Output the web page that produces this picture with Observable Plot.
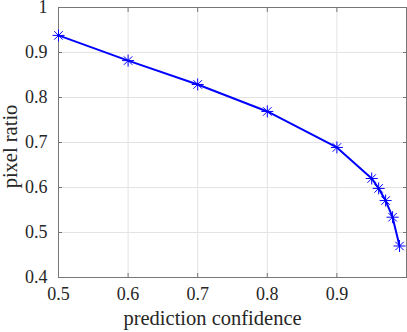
<!DOCTYPE html>
<html><head>
<meta charset="utf-8">
<script src="https://cdn.jsdelivr.net/npm/d3@7"></script>
<script src="https://cdn.jsdelivr.net/npm/@observablehq/plot@0.6"></script>
<style>body{margin:0;background:#fff} svg{display:block} svg text{font-family:"Liberation Serif",serif}</style>
</head><body><div id="chart"></div>
<script>
const confidence = [0.5, 0.6, 0.7, 0.8, 0.9, 0.95, 0.96, 0.97, 0.98, 0.99];
const pixelRatio = [0.938, 0.882, 0.829, 0.769, 0.689, 0.620, 0.598, 0.571, 0.534, 0.470];
const xTicks = [0.5, 0.6, 0.7, 0.8, 0.9];
const yTicks = [0.4, 0.5, 0.6, 0.7, 0.8, 0.9, 1];
const xLabel = "prediction confidence";
const yLabel = "pixel ratio";

const data = confidence.map((c, i) => ({c, p: pixelRatio[i]}));
const fmt = d => String(d);
const serif = "Liberation Serif, serif";

// MATLAB-style 8-armed asterisk
const star8 = {
  draw(ctx, size) {
    const r = Math.sqrt(size / Math.PI);
    const d = r * Math.SQRT1_2;
    ctx.moveTo(-r, 0); ctx.lineTo(r, 0);
    ctx.moveTo(0, -r); ctx.lineTo(0, r);
    ctx.moveTo(-d, -d); ctx.lineTo(d, d);
    ctx.moveTo(-d, d); ctx.lineTo(d, -d);
  }
};

const plot = Plot.plot({
  width: 407, height: 332,
  marginLeft: 58, marginRight: 1, marginTop: 7, marginBottom: 55,
  style: {fontFamily: serif, fontSize: "18px", color: "#262626", background: "#fff"},
  x: {domain: [0.5, 1]},
  y: {domain: [0.4, 1]},
  marks: [
    Plot.gridX(xTicks, {stroke: "#e3e3e3", strokeOpacity: 1}),
    Plot.gridY(yTicks, {stroke: "#e3e3e3", strokeOpacity: 1}),
    Plot.axisX(xTicks, {anchor: "bottom", tickSize: -4, tickPadding: 14, tickFormat: fmt, label: null, stroke: "#777", fontSize: 18, fontFamily: serif}),
    Plot.axisX(xTicks, {anchor: "top", tickSize: -4, tickFormat: null, text: null, label: null, stroke: "#777"}),
    Plot.axisY(yTicks, {anchor: "left", tickSize: -4, tickPadding: 15, tickFormat: fmt, label: null, stroke: "#777", fontSize: 18, fontFamily: serif}),
    Plot.axisY(yTicks, {anchor: "right", tickSize: -4, tickFormat: null, text: null, label: null, stroke: "#777"}),
    Plot.frame({stroke: "#777", strokeWidth: 1}),
    Plot.line(data, {x: "c", y: "p", stroke: "#0000ff", strokeWidth: 2}),
    Plot.dot(data, {x: "c", y: "p", symbol: star8, r: 6, stroke: "#0000ff", strokeWidth: 1}),
    Plot.text([xLabel], {frameAnchor: "bottom", textAnchor: "middle", dx: -20, dy: 47, text: d => d, fontSize: 20.5, fontFamily: serif, fill: "#262626"}),
    Plot.text([yLabel], {frameAnchor: "left", textAnchor: "middle", dx: -48, dy: 4, rotate: -90, text: d => d, fontSize: 20.5, fontFamily: serif, fill: "#262626"})
  ]
});
document.getElementById("chart").append(plot);
</script>
</body></html>
